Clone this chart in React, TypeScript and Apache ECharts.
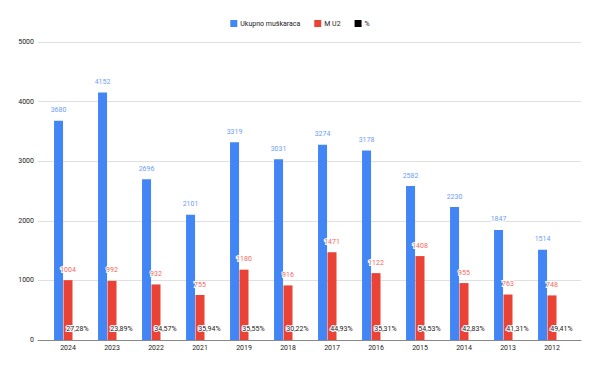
import React, { useEffect, useRef } from "react";
import * as echarts from "echarts";

const categories = ["2024", "2023", "2022", "2021", "2019", "2018", "2017", "2016", "2015", "2014", "2013", "2012"];
const totalMen = [3680, 4152, 2696, 2101, 3319, 3031, 3274, 3178, 2582, 2230, 1847, 1514];
const menU2 = [1004, 992, 932, 755, 1180, 916, 1471, 1122, 1408, 955, 763, 748];
const percent = [0.2728, 0.2389, 0.3457, 0.3594, 0.3555, 0.3022, 0.4493, 0.3531, 0.5453, 0.4283, 0.4131, 0.4941];
const yTicks = [0, 1000, 2000, 3000, 4000, 5000];

const FONT = "Roboto, 'Liberation Sans', Arial, sans-serif";

export default function App() {
  const ref = useRef<HTMLDivElement>(null);
  useEffect(() => {
    if (!ref.current) return;
    const chart = echarts.init(ref.current, null, { renderer: "svg" });
    const yMax = yTicks[yTicks.length - 1];
    const halo = { textBorderColor: "#ffffff", textBorderWidth: 2 };
    chart.setOption({
      animation: false,
      backgroundColor: "#ffffff",
      textStyle: { fontFamily: FONT },
      legend: {
        top: 15,
        left: "center",
        itemWidth: 7,
        itemHeight: 7,
        itemGap: 14,
        icon: "rect",
        textStyle: { fontSize: 7, color: "#222", fontFamily: FONT, padding: [0, 0, 0, -2] },
        data: ["Ukupno muškaraca", "M U2", "%"],
      },
      grid: [
        { left: 38, right: 19, top: 42, bottom: 30 },
        { left: 46, right: 26, top: 42, bottom: 30 },
      ],
      xAxis: [
        {
          gridIndex: 0,
          type: "value",
          min: 0,
          max: 1,
          axisLabel: { show: false },
          axisTick: { show: false },
          splitLine: { show: false },
          axisLine: { show: true, onZero: false, lineStyle: { color: "#888", width: 1 } },
        },
        {
          gridIndex: 1,
          type: "category",
          data: categories,
          axisLine: { show: false },
          axisTick: { show: false },
          axisLabel: { fontSize: 7, color: "#222", margin: 4, fontFamily: FONT },
        },
      ],
      yAxis: [
        {
          gridIndex: 0,
          type: "value",
          min: 0,
          max: yMax,
          interval: 1000,
          axisLine: { show: false },
          axisTick: { show: false },
          axisLabel: { fontSize: 7, color: "#222", margin: 4, fontFamily: FONT, formatter: (v: number) => String(v) },
          splitLine: { lineStyle: { color: "#e0e0e0", width: 1 } },
        },
        {
          gridIndex: 1,
          type: "value",
          min: 0,
          max: yMax,
          show: false,
          splitLine: { show: false },
        },
      ],
      series: [
        {
          name: "Ukupno muškaraca",
          type: "bar",
          xAxisIndex: 1,
          yAxisIndex: 1,
          data: totalMen,
          barWidth: 9,
          barGap: "5%",
          itemStyle: { color: "#4285F4" },
          label: {
            show: true,
            position: "top",
            distance: 7,
            fontSize: 7,
            color: "#6d9ef6",
            fontFamily: FONT,
            ...halo,
          },
        },
        {
          name: "M U2",
          type: "bar",
          xAxisIndex: 1,
          yAxisIndex: 1,
          data: menU2,
          barWidth: 9,
          barGap: "5%",
          itemStyle: { color: "#EA4335" },
          label: {
            show: true,
            position: "top",
            distance: 7,
            fontSize: 7,
            color: "#ef6a60",
            fontFamily: FONT,
            ...halo,
          },
        },
        {
          name: "%",
          type: "bar",
          xAxisIndex: 1,
          yAxisIndex: 1,
          data: percent,
          barWidth: 9,
          barGap: "5%",
          itemStyle: { color: "#000000" },
          label: {
            show: true,
            position: "top",
            distance: 7,
            fontSize: 7,
            color: "#222",
            fontFamily: FONT,
            ...halo,
            formatter: (p: any) => (p.value * 100).toFixed(2).replace(".", ",") + "%",
          },
        },
      ],
    });
    return () => chart.dispose();
  }, []);
  return <div ref={ref} style={{ width: 600, height: 370, margin: -8 }} />;
}
